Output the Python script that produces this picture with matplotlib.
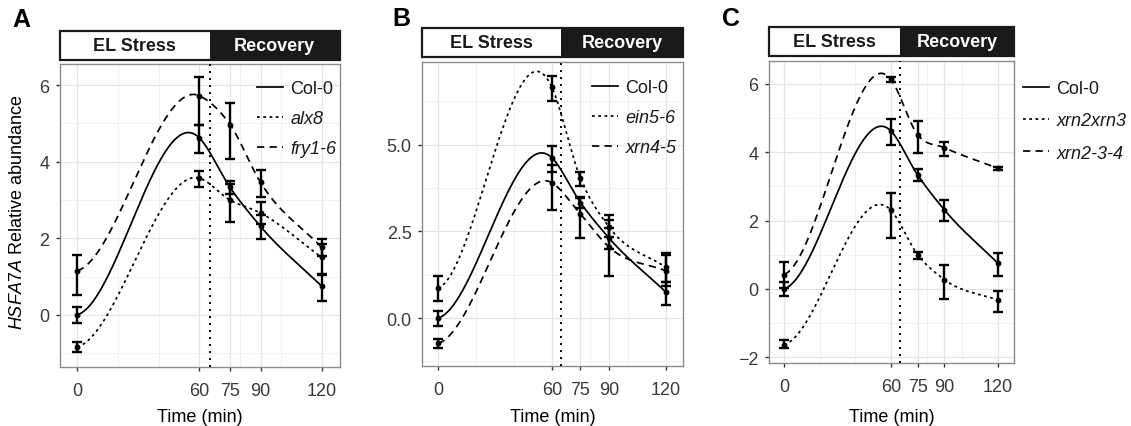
#!/usr/bin/env python3
"""HSFA7A relative abundance during EL stress and recovery, three mutant panels."""

import matplotlib

matplotlib.use("Agg")
import matplotlib.pyplot as plt
import numpy as np
from matplotlib.patches import Rectangle


TIME = [0, 60, 75, 90, 120]
SHIFT_TIME = 65  # end of EL stress / start of recovery

# Col-0 (same in every panel)
COL0 = [0.00, 4.62, 3.33, 2.31, 0.75]
COL0_LO = [-0.22, 4.22, 3.16, 1.99, 0.37]
COL0_HI = [0.21, 4.97, 3.50, 2.60, 1.05]

# panel A
ALX8 = [-0.84, 3.57, 3.00, 2.66, 1.50]
ALX8_LO = [-0.96, 3.35, 2.42, 2.37, 1.08]
ALX8_HI = [-0.70, 3.75, 3.42, 2.94, 1.85]
FRY1_6 = [1.15, 5.72, 4.97, 3.46, 1.76]
FRY1_6_LO = [0.53, 4.96, 4.07, 3.07, 1.55]
FRY1_6_HI = [1.57, 6.22, 5.52, 3.79, 1.98]

# panel B
EIN5_6 = [0.86, 6.65, 4.03, 2.63, 1.46]
EIN5_6_LO = [0.49, 6.27, 3.80, 2.33, 1.05]
EIN5_6_HI = [1.21, 6.97, 4.22, 2.97, 1.89]
XRN4_5 = [-0.73, 3.90, 3.00, 2.05, 1.36]
XRN4_5_LO = [-0.85, 3.12, 2.30, 1.20, 0.93]
XRN4_5_HI = [-0.60, 4.40, 3.45, 2.84, 1.82]

# panel C
XRN2XRN3 = [-1.63, 2.30, 1.00, 0.27, -0.33]
XRN2XRN3_LO = [-1.74, 1.48, 0.88, -0.29, -0.68]
XRN2XRN3_HI = [-1.51, 2.81, 1.09, 0.70, -0.05]
XRN2_3_4 = [0.42, 6.13, 4.51, 4.13, 3.53]
XRN2_3_4_LO = [0.04, 6.05, 3.97, 3.90, 3.49]
XRN2_3_4_HI = [0.80, 6.20, 4.90, 4.29, 3.57]

X_TICKS = [0, 60, 75, 90, 120]
X_MINOR = [20, 40, 80, 100]

W, H = 1131, 427

SOLID = "-"
DOTTED = (0, (1.6, 2.0))
DASHED = (0, (4.2, 3.0))

PANELS = [
    {
        "letter": "A", "letter_xy": (12, 20),
        "box": (60, 65, 340, 368), "header": (32, 61),
        "ylim": (-1.36, 6.55), "yticks": [0, 2, 4, 6], "yminor": [-1, 1, 3, 5],
        "ylabels": ["0", "2", "4", "6"],
        "series": [
            ("Col-0", COL0, COL0_LO, COL0_HI, SOLID, False),
            ("alx8", ALX8, ALX8_LO, ALX8_HI, DOTTED, True),
            ("fry1-6", FRY1_6, FRY1_6_LO, FRY1_6_HI, DASHED, True),
        ],
        "legend_xy": (257, 81), "legend_gap": 0.72,
    },
    {
        "letter": "B", "letter_xy": (392, 19),
        "box": (422, 63, 683, 367), "header": (29, 58),
        "ylim": (-1.38, 7.38), "yticks": [0, 2.5, 5.0], "yminor": [-1.25, 1.25, 3.75, 6.25],
        "ylabels": ["0.0", "2.5", "5.0"],
        "series": [
            ("Col-0", COL0, COL0_LO, COL0_HI, SOLID, False),
            ("ein5-6", EIN5_6, EIN5_6_LO, EIN5_6_HI, DOTTED, True),
            ("xrn4-5", XRN4_5, XRN4_5_LO, XRN4_5_HI, DASHED, True),
        ],
        "legend_xy": (592, 80), "legend_gap": 0.72,
    },
    {
        "letter": "C", "letter_xy": (722, 19),
        "box": (769, 62, 1014, 364), "header": (28, 57),
        "ylim": (-2.17, 6.67), "yticks": [-2, 0, 2, 4, 6], "yminor": [-1, 1, 3, 5],
        "ylabels": ["\u22122", "0", "2", "4", "6"],
        "series": [
            ("Col-0", COL0, COL0_LO, COL0_HI, SOLID, False),
            ("xrn2xrn3", XRN2XRN3, XRN2XRN3_LO, XRN2XRN3_HI, DOTTED, True),
            ("xrn2-3-4", XRN2_3_4, XRN2_3_4_LO, XRN2_3_4_HI, DASHED, True),
        ],
        "legend_xy": (1023, 81), "legend_gap": 0.85,
    },
]

XLIM = (-8.4, 129.0)


def smooth(t, y, n=400):
    """Cubic Hermite through the means: parabolic tangents inside,
    a nearly flat start at time 0 and the secant at the last point."""
    t = np.asarray(t, float)
    y = np.asarray(y, float)
    h = np.diff(t)
    s = np.diff(y) / h
    m = np.empty_like(y)
    m[1:-1] = (h[1:] * s[:-1] + h[:-1] * s[1:]) / (h[:-1] + h[1:])
    m[0] = 0.2 * s[0]
    m[-1] = s[-1]
    tt = np.linspace(t[0], t[-1], n)
    i = np.clip(np.searchsorted(t, tt) - 1, 0, len(h) - 1)
    u = (tt - t[i]) / h[i]
    h00 = 2 * u**3 - 3 * u**2 + 1
    h10 = u**3 - 2 * u**2 + u
    h01 = -2 * u**3 + 3 * u**2
    h11 = u**3 - u**2
    yy = h00 * y[i] + h10 * h[i] * m[i] + h01 * y[i + 1] + h11 * h[i] * m[i + 1]
    return tt, yy


def px_rect(left, top, right, bottom):
    return [left / W, 1 - bottom / H, (right - left) / W, (bottom - top) / H]


def draw_panel(fig, p):
    left, top, right, bottom = p["box"]
    ax = fig.add_axes(px_rect(left, top, right, bottom))
    ax.set_xlim(*XLIM)
    ax.set_ylim(*p["ylim"])
    ax.set_xticks(X_TICKS)
    ax.set_xticks(X_MINOR, minor=True)
    ax.set_yticks(p["yticks"])
    ax.set_yticklabels(p["ylabels"])
    ax.set_yticks(p["yminor"], minor=True)
    ax.grid(which="major", color="#E4E4E4", linewidth=0.9, zorder=0)
    ax.grid(which="minor", color="#EFEFEF", linewidth=0.6, zorder=0)
    ax.set_axisbelow(True)
    ax.tick_params(which="major", length=3, width=1.0, color="#333333",
                   labelcolor="#3A3A3A", pad=4.5)
    ax.tick_params(axis="x", which="major", pad=8)
    ax.tick_params(which="minor", length=0)
    for sp in ax.spines.values():
        sp.set_color("#8C8C8C")
        sp.set_linewidth(1.0)

    ax.axvline(SHIFT_TIME, color="black", linestyle=(0, (1, 2.6)), linewidth=1.4, zorder=3)

    for name, mean, lo, hi, ls, _ in p["series"]:
        tt, yy = smooth(TIME, mean)
        ax.plot(tt, yy, color="black", linestyle=ls, linewidth=1.25, label=name, zorder=4)
        mean = np.asarray(mean)
        yerr = [mean - np.asarray(lo), np.asarray(hi) - mean]
        ax.errorbar(TIME, mean, yerr=yerr, fmt="o", color="black", markersize=3.2,
                    elinewidth=1.7, capsize=3.6, capthick=1.7, zorder=5)

    # legend
    lx, ly = p["legend_xy"]
    leg = ax.legend(loc="upper left", bbox_to_anchor=(lx / W, 1 - ly / H),
                    bbox_transform=fig.transFigure, frameon=False, borderpad=0,
                    borderaxespad=0, handlelength=1.45, handletextpad=0.4,
                    labelspacing=p["legend_gap"])
    for txt, (_, _, _, _, _, ital) in zip(leg.get_texts(), p["series"]):
        if ital:
            txt.set_style("italic")
        txt.set_color("#1A1A1A")

    # header bar
    htop, hbot = p["header"]
    hx = fig.add_axes(px_rect(left, htop, right, hbot))
    hx.set_xlim(*XLIM)
    hx.set_ylim(0, 1)
    hx.axis("off")
    hx.add_patch(Rectangle((XLIM[0], 0), SHIFT_TIME - XLIM[0], 1, facecolor="white",
                           edgecolor="none", clip_on=False))
    hx.add_patch(Rectangle((SHIFT_TIME, 0), XLIM[1] - SHIFT_TIME, 1, facecolor="#1A1A1A",
                           edgecolor="none", clip_on=False))
    hx.add_patch(Rectangle((XLIM[0], 0), XLIM[1] - XLIM[0], 1, facecolor="none",
                           edgecolor="#1A1A1A", linewidth=1.6, clip_on=False))
    hx.text((XLIM[0] + SHIFT_TIME) / 2, 0.5, "EL Stress", ha="center", va="center",
            fontweight="bold", color="#1A1A1A")
    hx.text((SHIFT_TIME + XLIM[1]) / 2, 0.5, "Recovery", ha="center", va="center",
            fontweight="bold", color="white")

    fig.text(p["letter_xy"][0] / W, 1 - p["letter_xy"][1] / H, p["letter"],
             fontsize=18, fontweight="bold", ha="left", va="center")
    fig.text((left + right) / 2 / W, 1 - 418 / H, "Time (min)", ha="center", va="center")
    return ax


def main():
    plt.rcParams.update(
        {
            "font.family": ["Liberation Sans", "DejaVu Sans"],
            "font.size": 13,
            "mathtext.fontset": "custom",
            "mathtext.rm": "Liberation Sans",
            "mathtext.it": "Liberation Sans:italic",
        }
    )
    fig = plt.figure(figsize=(W / 100, H / 100), dpi=100)
    for p in PANELS:
        draw_panel(fig, p)
    fig.text(17.5 / W, 1 - 212 / H, r"$\mathit{HSFA7A}$ Relative abundance",
             rotation=90, ha="center", va="center")
    fig.savefig("out.png", dpi=100)
    plt.close(fig)


if __name__ == "__main__":
    main()
